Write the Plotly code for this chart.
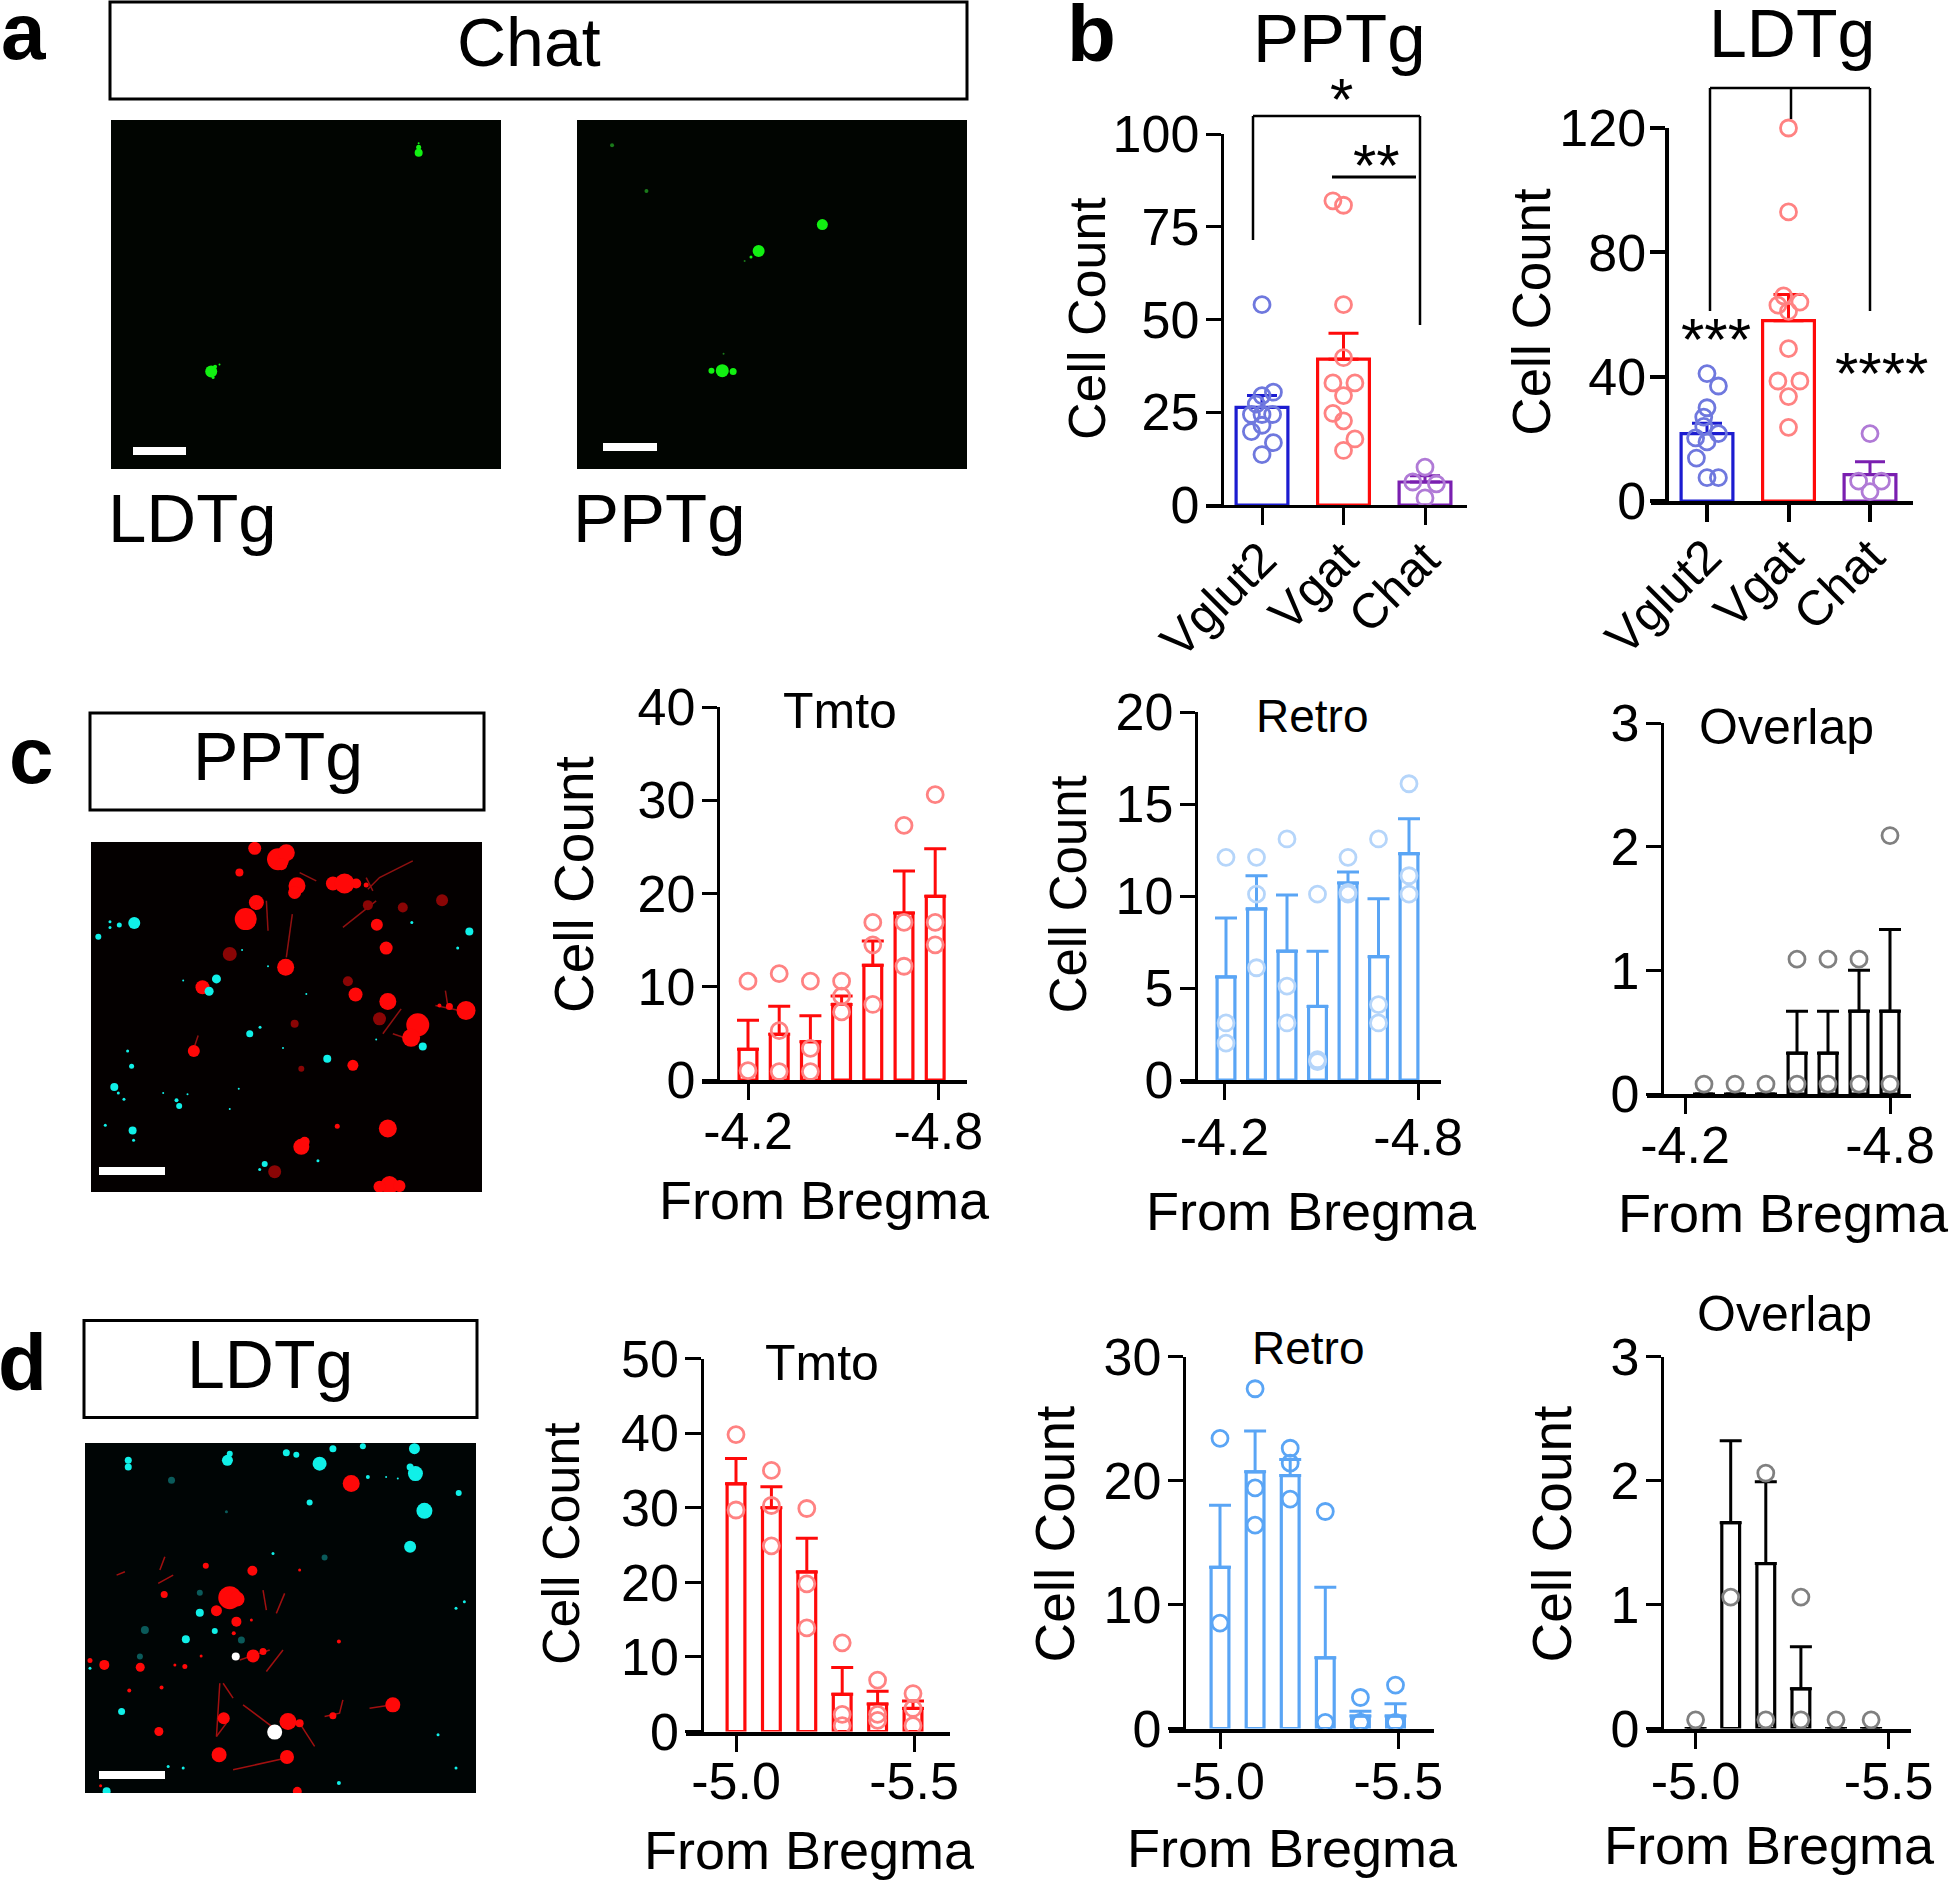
import plotly.graph_objects as go

W, H = 1950, 1881
FONT = "Liberation Sans"

# ---------- panel b data ----------
b_categories = ["Vglut2", "Vgat", "Chat"]
pptg_means = [26.3, 39.3, 6.2]
pptg_sems = [3.2, 7.0, 1.7]
pptg_vglut2 = [54, 30.4, 29.5, 27.2, 24.4, 24.4, 24.4, 21.5, 19.8, 16.8, 13.6]
pptg_vglut2_x = [0, .14, 0, -.07, -.13, 0, .13, 0, -.13, .14, 0]
pptg_vgat = [82, 80.8, 54, 39.7, 32.9, 32.9, 29.5, 24.7, 22.7, 17.8, 14.7]
pptg_vgat_x = [.87, 1, 1, 1, .87, 1.14, 1, .87, 1, 1.14, 1]
pptg_chat = [10.2, 6.2, 5.7, 1.9]
pptg_chat_x = [2, 1.85, 2.14, 2]

ldtg_means = [21.7, 58, 8.5]
ldtg_sems = [3.3, 8.4, 4.1]
ldtg_vglut2 = [41, 37, 30, 27, 24, 20.3, 21.7, 19, 13.8, 7.5, 7.5]
ldtg_vglut2_x = [0, .14, 0, -.04, -.04, -.14, .14, 0, -.13, 0, .14]
ldtg_vgat = [120, 93, 66, 63, 64, 61, 49, 38.6, 38.6, 33.6, 23.7]
ldtg_vgat_x = [1, 1, .94, .87, 1.14, 1, 1, .87, 1.14, 1, 1]
ldtg_chat = [21.7, 6.4, 6.4, 3]
ldtg_chat_x = [2, 1.86, 2.14, 2]

# ---------- panel c data ----------
c_tmto_means = [3.3, 4.9, 4.1, 8.1, 12.3, 17.9, 19.7]
c_tmto_sems = [3.1, 3.0, 2.8, .9, 2.6, 4.5, 5.1]
c_tmto_pts = [[10.6, 1], [11.4, 5.3, .9], [10.6, 3.4, .9], [10.6, 9, 7.3],
              [16.9, 14.5, 8.1], [27.3, 16.9, 12.2], [30.6, 16.9, 14.5]]
c_retro_means = [5.6, 9.3, 7, 4, 10.7, 6.7, 12.3]
c_retro_sems = [3.2, 1.8, 3.05, 3, .6, 3.15, 1.9]
c_retro_pts = [[12.1, 3.1, 2], [12.1, 10.1, 6.1], [13.1, 5.1, 3.1], [10.1, 1.1, 1],
               [12.1, 10.1, 10.2], [13.1, 4.1, 3.1], [16.1, 11.1, 10.1]]
c_over_means = [0, 0, 0, .33, .33, .67, .67]
c_over_sems = [0, 0, 0, .34, .34, .33, .66]
c_over_pts = [[.08], [.08], [.08], [1.09, .08], [1.09, .08], [1.09, .08], [2.09, .08]]

# ---------- panel d data ----------
d_tmto_means = [33.2, 30, 21.4, 5, 3.7, 3.1]
d_tmto_sems = [3.4, 2.8, 4.5, 3.6, 1.7, 1.0]
d_tmto_pts = [[39.8, 29.7], [35, 30.3, 24.9], [29.9, 19.8, 13.9],
              [11.9, 2.3, .8], [6.9, 2.3, 1.5], [5.1, 3.1, .8]]
d_retro_means = [13, 20.7, 20.4, 5.7, 1, 1]
d_retro_sems = [5, 3.3, 1.3, 5.7, .4, 1]
d_retro_pts = [[23.4, 8.5], [27.4, 19.4, 16.4], [22.6, 21.4, 18.5],
               [17.5, .5], [2.5, .5, .5], [3.5, .5]]
d_over_means = [0, 1.66, 1.33, .32, 0, 0]
d_over_sems = [0, .66, .66, .34, 0, 0]
d_over_pts = [[.07], [3.06, 1.06], [2.06, .07], [1.06, .07], [.07], [.07]]

# ---------- micrograph blobs: (x, y, diameter) ----------
a_ldtg_green = [(657, 386, 8), (657, 372, 5), (657, 362, 2), (332, 940, 12), (338, 928, 4), (345, 922, 2), (335, 955, 3)]
a_pptg_green = [(1290, 568, 11), (1190, 635, 12), (1178, 650, 3), (1133, 938, 13), (1150, 940, 7), (1116, 938, 6)]
a_pptg_dim = [(960, 367, 4), (1014, 483, 4), (1168, 660, 2), (1135, 895, 2)]

c_red = [(765, 442, 13), (835, 475, 22), (860, 455, 17), (845, 490, 12), (719, 515, 8), (892, 555, 17), (885, 575, 13),
         (1000, 548, 14), (1035, 548, 20), (1070, 548, 10), (1100, 552, 5), (770, 605, 15), (738, 655, 22), (858, 800, 17),
         (608, 860, 14), (1132, 672, 12), (1160, 742, 13), (1068, 882, 14), (1165, 903, 17), (1255, 973, 23),
         (1235, 1012, 18), (1400, 930, 19), (1350, 918, 7), (1320, 915, 4), (582, 1052, 12), (1060, 1095, 11),
         (1165, 1285, 18), (905, 1340, 16), (915, 1325, 10), (1170, 1455, 18), (1140, 1460, 12), (1200, 1458, 12),
         (1013, 1278, 5)]
c_red_dim = [(690, 760, 14), (1105, 613, 10), (1045, 842, 10), (1140, 955, 13), (905, 1105, 6),
             (1328, 598, 12), (825, 1415, 13), (1210, 620, 10), (885, 970, 8)]
c_cyan = [(403, 667, 12), (295, 708, 6), (358, 673, 5), (330, 663, 3), (330, 680, 3), (650, 835, 9), (628, 872, 9),
          (750, 1000, 7), (781, 980, 3), (983, 1075, 8), (1270, 1038, 8), (1410, 692, 8), (1375, 742, 3),
          (395, 1098, 5), (383, 1052, 3), (343, 1160, 8), (355, 1178, 3), (372, 1197, 3), (530, 1200, 4),
          (538, 1217, 6), (490, 1178, 2), (563, 1182, 2), (398, 1291, 8), (401, 1320, 3), (316, 1275, 3),
          (795, 1392, 6), (780, 1408, 3), (955, 1382, 3), (850, 1043, 2), (920, 880, 2), (1237, 665, 3),
          (727, 748, 2), (805, 797, 2), (690, 1226, 2), (717, 1165, 2), (1130, 1017, 2), (550, 840, 2)]
c_neurite_x = [800, 805, None, 878, 860, None, 1105, 1140, 1240, None, 1308, 1380, None, 1338, 1345, None, 595, 585,
               None, 1130, 1030, None, 1205, 1150, None, 1180, 1240, None, 1100, 1120, None, 900, 950]
c_neurite_y = [600, 690, None, 640, 770, None, 565, 530, 480, None, 915, 930, None, 870, 915, None, 1005, 1035,
               None, 600, 680, None, 925, 1000, None, 1000, 1020, None, 530, 570, None, 515, 540]

d_red = [(1055, 550, 17), (758, 812, 10), (618, 797, 6), (690, 893, 23), (712, 897, 15), (650, 932, 11), (710, 965, 10),
         (493, 883, 7), (702, 1000, 4), (313, 1095, 10), (421, 1102, 9), (270, 1082, 5), (760, 1068, 13),
         (790, 1055, 7), (555, 1100, 5), (485, 1163, 4), (388, 1172, 4), (477, 1295, 9), (672, 1255, 12),
         (658, 1365, 15), (862, 1372, 14), (865, 1265, 17), (900, 1270, 8), (1180, 1215, 15), (1000, 1248, 7),
         (893, 1475, 9), (1018, 1025, 4), (755, 960, 3), (900, 810, 3), (525, 1095, 3), (604, 1068, 3), (302, 1458, 3)]
d_white = [(708, 1070, 8), (825, 1297, 15)]
d_cyan = [(385, 480, 7), (385, 500, 7), (683, 480, 11), (690, 460, 6), (860, 457, 7), (890, 463, 6), (960, 490, 14),
          (1000, 445, 7), (1090, 438, 6), (1245, 445, 11), (1248, 520, 15), (1232, 500, 7), (1275, 632, 16),
          (1232, 740, 12), (1378, 578, 6), (930, 607, 6), (1105, 530, 4), (600, 938, 8), (645, 993, 6), (558, 1018, 8),
          (365, 1235, 7), (320, 1475, 8), (1018, 1450, 4), (1370, 1405, 3), (1316, 1305, 3), (820, 760, 3),
          (1395, 905, 3), (1370, 925, 3), (270, 1105, 3), (505, 1400, 3), (550, 1405, 3), (1160, 530, 2), (1195, 535, 2)]
d_cyan_dim = [(975, 772, 6), (515, 540, 7), (680, 635, 3), (420, 1070, 6), (435, 990, 8), (725, 1020, 7), (600, 878, 6)]
d_neurite_x = [350, 375, None, 480, 495, None, 475, 520, None, 790, 800, None, 855, 830, None, 900, 945, None,
               1030, 1020, 975, None, 720, 810, None, 800, 850, None, 670, 700, None, 1110, 1180, None, 650, 680, None,
               700, 860, None, 730, 830, None, 660, 650]
d_neurite_y = [825, 815, None, 810, 770, None, 850, 825, None, 870, 930, None, 880, 940, None, 1270, 1340, None,
               1200, 1240, 1250, None, 1080, 1050, None, 1115, 1050, None, 1150, 1195, None, 1225, 1215, None, 1310, 1270, None,
               1410, 1375, None, 1215, 1290, None, 1150, 1310]

# ---------- figure construction ----------
fig = go.Figure()
annotations, shapes = [], []
layout_axes = {}
axis_no = [0]


def px(x):
    return x / W


def py(y):
    return 1 - y / H


def text(x, baseline, s, size, weight="normal", anchor="center"):
    annotations.append(dict(x=px(x), y=py(baseline - 0.3465 * size), xref="paper", yref="paper", text=s,
                            showarrow=False, xanchor=anchor, yanchor="middle", borderpad=0,
                            font=dict(family=FONT, size=size, color="black", weight=weight)))


def vtext(baseline_x, yc, s, size):
    annotations.append(dict(x=px(baseline_x - 0.3465 * size), y=py(yc), xref="paper", yref="paper", text=s,
                            showarrow=False, xanchor="center", yanchor="middle", textangle=-90, borderpad=0,
                            font=dict(family=FONT, size=size, color="black")))


def rect(x0, y0, x1, y1, line=None, fill=None, lw=2.5):
    shapes.append(dict(type="rect", xref="paper", yref="paper", x0=px(x0), x1=px(x1), y0=py(y0), y1=py(y1),
                       line=dict(color=line, width=lw if line else 0), fillcolor=fill, layer="above"))


def seg(points, lw=3):
    for (x0, y0), (x1, y1) in zip(points[:-1], points[1:]):
        shapes.append(dict(type="line", xref="paper", yref="paper", x0=px(x0), x1=px(x1), y0=py(y0), y1=py(y1),
                           line=dict(color="black", width=lw), layer="above"))


def next_axes():
    axis_no[0] += 1
    n = axis_no[0]
    return ("x%d" % n, "y%d" % n, "xaxis%d" % n, "yaxis%d" % n)


def chart(box, ymax, yticks, first, step, means, sems, colors, pts_x, pts_y, tickvals, ticktext,
          bar_px=21, axis_w=2.5, x_w=4, ms=16, tickangle=0, tick_size=52, x_standoff=-13, y_standoff=-4, x_ticklen=16):
    ax_x, x_left, x_right, top, bottom = box
    xn, yn, xk, yk = next_axes()
    xs = list(range(len(means)))
    bar_c, pt_c = colors
    bar_colors = bar_c if isinstance(bar_c, list) else [bar_c] * len(means)
    pt_colors = pt_c if isinstance(pt_c, list) else [pt_c] * len(pts_x)
    lw = 3.2
    for i in xs:
        fig.add_trace(go.Bar(x=[i], y=[means[i]], width=(bar_px - lw) / step, xaxis=xn, yaxis=yn,
                             marker=dict(color="white", line=dict(color=bar_colors[i], width=lw)),
                             error_y=dict(type="data", array=[sems[i]], arrayminus=[0], symmetric=False,
                                          color=bar_colors[i], thickness=3,
                                          width=15 if bar_px > 30 else 11),
                             showlegend=False, cliponaxis=False))
    fig.add_trace(go.Scatter(x=pts_x, y=pts_y, mode="markers", xaxis=xn, yaxis=yn, cliponaxis=False, showlegend=False,
                             marker=dict(size=ms, color="rgba(0,0,0,0)", line=dict(color=pt_colors, width=2.8))))
    layout_axes[xk] = dict(domain=[px(x_left), px(x_right)], range=[(x_left - first) / step, (x_right - first) / step],
                           anchor=yn, showline=True, linecolor="black", linewidth=x_w, showgrid=False, zeroline=False,
                           ticks="outside", ticklen=x_ticklen, tickwidth=axis_w, tickcolor="black",
                           tickmode="array", tickvals=tickvals, ticktext=ticktext, tickangle=tickangle,
                           ticklabelstandoff=x_standoff,
                           tickfont=dict(family=FONT, size=tick_size, color="black"))
    layout_axes[yk] = dict(domain=[py(bottom), py(top)], range=[0, ymax], anchor="free", position=px(ax_x),
                           showline=True, linecolor="black", linewidth=axis_w, showgrid=False,
                           zeroline=False, ticks="outside", ticklen=15.5, tickwidth=axis_w, tickcolor="black",
                           tickmode="array", tickvals=yticks, ticklabelstandoff=y_standoff,
                           tickfont=dict(family=FONT, size=52, color="black"))


def flat(pts, offset=0):
    xs, ys = [], []
    for i, group in enumerate(pts):
        for v in group:
            xs.append(i + offset)
            ys.append(v)
    return xs, ys


def micro(box, zoom_box, bg, groups, neurites=None):
    x0, x1, y0, y1 = box
    zx0, zx1, zy0, zy1 = zoom_box
    xn, yn, xk, yk = next_axes()
    if neurites:
        for nx, ny, col, w in neurites:
            fig.add_trace(go.Scatter(x=nx, y=ny, mode="lines", xaxis=xn, yaxis=yn, showlegend=False,
                                     line=dict(color=col, width=w)))
    for blobs, col in groups:
        fig.add_trace(go.Scatter(x=[b[0] for b in blobs], y=[b[1] for b in blobs], mode="markers", xaxis=xn, yaxis=yn,
                                 showlegend=False,
                                 marker=dict(size=[b[2] for b in blobs], color=col, opacity=1, line=dict(width=0))))
    layout_axes[xk] = dict(domain=[px(x0), px(x1)], range=[zx0, zx1], anchor=yn, visible=False)
    layout_axes[yk] = dict(domain=[py(y1), py(y0)], range=[zy1, zy0], anchor=xn, visible=False)
    shapes.append(dict(type="rect", xref="paper", yref="paper", x0=px(x0), x1=px(x1), y0=py(y0), y1=py(y1),
                       fillcolor=bg, line=dict(width=0), layer="below"))


# ---------- panel a ----------
text(0, 59, "a", 80, "bold", "left")
rect(110, 2, 967, 99, "black", None, 3)
text(529, 66, "Chat", 68)
micro((111, 501, 120, 469), (175, 786, 303, 1187), "#010501", [(a_ldtg_green, "#12f012")])
micro((577, 967, 120, 469), (905, 1517, 303, 1187), "#010501", [(a_pptg_dim, "#1a7a1a"), (a_pptg_green, "#12f012")])
rect(133, 447, 186, 455, None, "white")
rect(603, 443, 657, 451, None, "white")
text(107, 542, "LDTg", 69, anchor="left")
text(572, 542, "PPTg", 69, anchor="left")

# ---------- panel b ----------
BLUE, RED, PURPLE = "#1c1cd0", "#ff0a0a", "#7a1fb0"
LBLUE, LRED, LPURPLE = "#6f78de", "#ff8282", "#b07ad6"
text(1066, 61, "b", 80, "bold", "left")
text(1339, 62, "PPTg", 69)
text(1792, 57, "LDTg", 68)

xs = pptg_vglut2_x + pptg_vgat_x + pptg_chat_x
ys = pptg_vglut2 + pptg_vgat + pptg_chat
pc = [LBLUE] * len(pptg_vglut2) + [LRED] * len(pptg_vgat) + [LPURPLE] * len(pptg_chat)
chart((1222, 1206, 1467, 134, 505), 100, [0, 25, 50, 75, 100], 1262, 81.5, pptg_means, pptg_sems,
      ([BLUE, RED, PURPLE], pc), xs, ys, [0, 1, 2], b_categories, bar_px=55, axis_w=2.5, x_w=2.5, ms=16,
      tickangle=-45, tick_size=49, x_ticklen=17, y_standoff=-4, x_standoff=-14)
vtext(1105, 318, "Cell Count", 52)

xs = ldtg_vglut2_x + ldtg_vgat_x + ldtg_chat_x
ys = ldtg_vglut2 + ldtg_vgat + ldtg_chat
pc = [LBLUE] * len(ldtg_vglut2) + [LRED] * len(ldtg_vgat) + [LPURPLE] * len(ldtg_chat)
chart((1667, 1651, 1913, 128, 501), 120, [0, 40, 80, 120], 1707, 81.5, ldtg_means, ldtg_sems,
      ([BLUE, RED, PURPLE], pc), xs, ys, [0, 1, 2], b_categories, bar_px=55, axis_w=4, x_w=4, ms=16,
      tickangle=-45, tick_size=49, x_ticklen=17, y_standoff=-7, x_standoff=-14)
vtext(1549, 312, "Cell Count", 53)

seg([(1253, 240), (1253, 116), (1420, 116), (1420, 325)], 2.5)
seg([(1332, 177), (1416, 177)], 3)
text(1341, 90.5 + 30, "*", 60)
text(1376, 156 + 30, "**", 60)
seg([(1710, 311), (1710, 88), (1870, 88), (1870, 311)], 2.5)
seg([(1791, 88), (1791, 119)], 2.5)
text(1716, 330 + 30, "***", 60)
text(1881, 364 + 30, "****", 60)

# ---------- panel c ----------
text(8, 783, "c", 80, "bold", "left")
rect(90, 713, 484, 810, "black", None, 3)
text(278, 780, "PPTg", 68)
micro((91, 482, 842, 1192), (273, 1448, 423, 1476), "#040000",
      [(c_red_dim, "#8a0505"), (c_red, "#ff0808"), (c_cyan, "#10f0e8")],
      [(c_neurite_x, c_neurite_y, "#901010", 1.5)])
rect(99, 1167, 165, 1175, None, "white")

tx, ty = flat(c_tmto_pts)
chart((718, 702, 967, 707, 1080), 40, [0, 10, 20, 30, 40], 748, 31.2, c_tmto_means, c_tmto_sems,
      ("#ff0a0a", "#ff8282"), tx, ty, [0, 6.1], ["-4.2", "-4.8"], x_standoff=-13)
vtext(593, 884, "Cell Count", 55)
text(824, 1219, "From Bregma", 54)
text(840, 728, "Tmto", 50)

tx, ty = flat(c_retro_pts)
chart((1196, 1181, 1441, 712, 1080), 20, [0, 5, 10, 15, 20], 1226, 30.5, c_retro_means, c_retro_sems,
      ("#5aa5f5", "#b5d5fa"), tx, ty, [-.05, 6.3], ["-4.2", "-4.8"], x_standoff=-7)
vtext(1087, 894, "Cell Count", 51)
text(1311, 1230, "From Bregma", 54)
text(1312, 732, "Retro", 46)

tx, ty = flat(c_over_pts)
chart((1662, 1647, 1911, 723, 1094), 3, [0, 1, 2, 3], 1704, 31, c_over_means, c_over_sems,
      ("#000000", "#808080"), tx, ty, [-.61, 6], ["-4.2", "-4.8"], x_standoff=-13)
text(1783, 1232, "From Bregma", 54)
text(1786, 744, "Overlap", 50)

# ---------- panel d ----------
text(-3, 1390, "d", 80, "bold", "left")
rect(84, 1320.5, 477, 1417.5, "black", None, 3)
text(269.5, 1388, "LDTg", 68)
micro((85, 476, 1443, 1793), (255, 1430, 428, 1480), "#000505",
      [(d_cyan_dim, "#0a5a5a"), (d_red, "#ff0808"), (d_cyan, "#10f0e8"), (d_white, "#ffffff")],
      [(d_neurite_x, d_neurite_y, "#a01010", 1.5)])
rect(99, 1771, 165, 1779, None, "white")

tx, ty = flat(d_tmto_pts)
chart((701.5, 686, 950, 1358.5, 1731.6), 50, [0, 10, 20, 30, 40, 50], 736, 35.4, d_tmto_means, d_tmto_sems,
      ("#ff0a0a", "#ff8282"), tx, ty, [0, 5.03], ["-5.0", "-5.5"], x_standoff=-15)
vtext(579, 1543, "Cell Count", 52)
text(809.5, 1869, "From Bregma", 54)
text(822, 1380.5, "Tmto", 50)

tx, ty = flat(d_retro_pts)
chart((1184, 1169, 1434, 1356.5, 1728.5), 30, [0, 10, 20, 30], 1220, 35.1, d_retro_means, d_retro_sems,
      ("#5aa5f5", "#5aa5f5"), tx, ty, [0, 5.08], ["-5.0", "-5.5"], x_standoff=-12)
vtext(1073.6, 1534, "Cell Count", 55)
text(1292, 1867, "From Bregma", 54)
text(1308, 1364, "Retro", 46)

tx, ty = flat(d_over_pts)
chart((1662, 1647, 1911, 1356.5, 1728.5), 3, [0, 1, 2, 3], 1695.6, 35.1, d_over_means, d_over_sems,
      ("#000000", "#808080"), tx, ty, [0, 5.5], ["-5.0", "-5.5"], x_standoff=-12)
vtext(1571.5, 1534, "Cell Count", 55)
text(1769, 1864, "From Bregma", 54)
text(1784, 1331, "Overlap", 50)

fig.update_layout(width=W, height=H, margin=dict(l=0, r=0, t=0, b=0, autoexpand=False), paper_bgcolor="white",
                  plot_bgcolor="rgba(0,0,0,0)", showlegend=False, annotations=annotations, shapes=shapes,
                  barmode="overlay", font=dict(family=FONT, color="black"), **layout_axes)

fig.write_html("out.html", config={"displayModeBar": False},
               post_script="document.body.style.margin='0';document.body.style.overflow='hidden';")
